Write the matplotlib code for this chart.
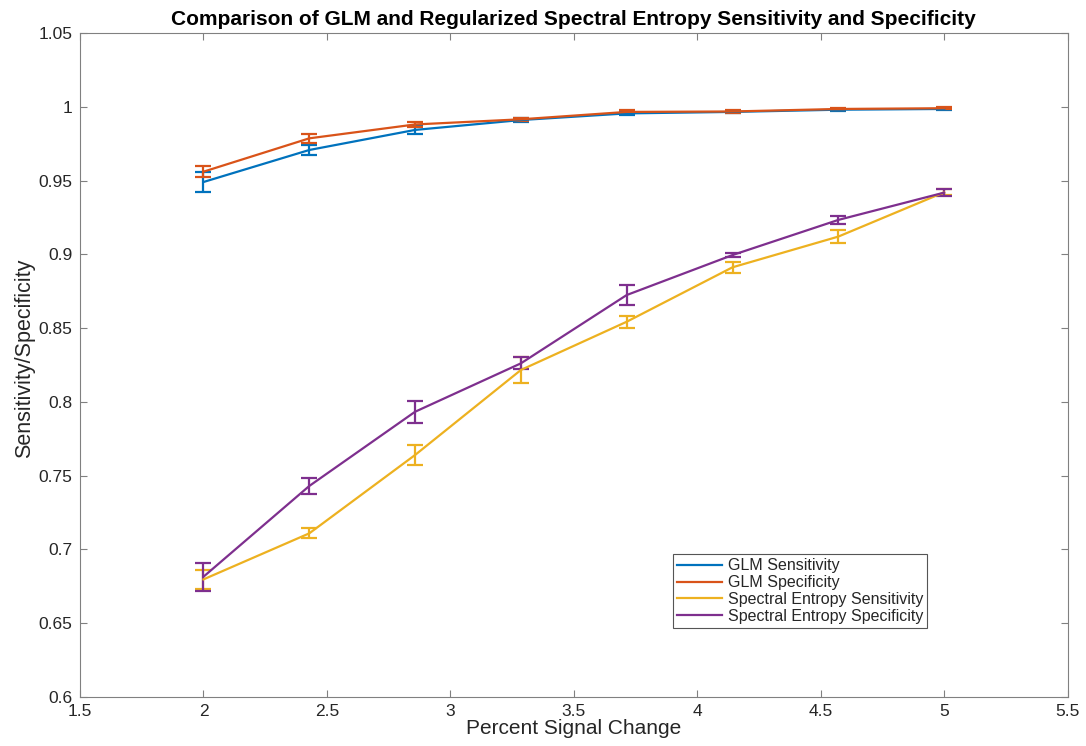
import numpy as np
import matplotlib
matplotlib.use("Agg")
import matplotlib.pyplot as plt
from matplotlib.lines import Line2D

plt.rcParams['font.family'] = ['Liberation Sans', 'DejaVu Sans']

psc = [2.0, 2.4286, 2.8571, 3.2857, 3.7143, 4.1429, 4.5714, 5.0]

glm_sens = [0.949, 0.9707, 0.9843, 0.991, 0.9955, 0.9965, 0.998, 0.9985]
glm_sens_err = [0.0065, 0.0036, 0.0027, 0.0012, 0.0010, 0.0008, 0.0008, 0.0006]
glm_spec = [0.956, 0.9786, 0.988, 0.9915, 0.9965, 0.9968, 0.9985, 0.999]
glm_spec_err = [0.0036, 0.0030, 0.0020, 0.0012, 0.0010, 0.0008, 0.0007, 0.0006]
se_sens = [0.6797, 0.7109, 0.764, 0.8216, 0.8543, 0.8912, 0.912, 0.942]
se_sens_err = [0.0065, 0.0033, 0.0070, 0.0090, 0.0040, 0.0036, 0.0045, 0.0020]
se_spec = [0.6815, 0.743, 0.7933, 0.8261, 0.8724, 0.8995, 0.9233, 0.9418]
se_spec_err = [0.0095, 0.0053, 0.0075, 0.0040, 0.0067, 0.0015, 0.0030, 0.0023]

labels = ['GLM Sensitivity', 'GLM Specificity',
          'Spectral Entropy Sensitivity', 'Spectral Entropy Specificity']
colors = ['#0072BD', '#D95319', '#EDB120', '#7E2F8E']

fig = plt.figure(figsize=(10.86, 7.46), dpi=100)
ax = fig.add_axes([0.0737, 0.0657, 0.9093, 0.8901])

series = [(glm_sens, glm_sens_err), (glm_spec, glm_spec_err),
          (se_sens, se_sens_err), (se_spec, se_spec_err)]
for (y, e), c in zip(series, colors):
    ax.errorbar(psc, y, yerr=e, color=c, lw=1.6, elinewidth=1.6,
                capsize=5.5, capthick=1.6)

ax.set_xlim(1.5, 5.5)
ax.set_ylim(0.6, 1.05)
ax.set_xticks(np.arange(1.5, 5.51, 0.5))
ax.set_xticklabels(['1.5', '2', '2.5', '3', '3.5', '4', '4.5', '5', '5.5'])
ax.set_yticks(np.arange(0.6, 1.051, 0.05))
ax.set_yticklabels(['0.6', '0.65', '0.7', '0.75', '0.8', '0.85', '0.9', '0.95', '1', '1.05'])
ax.tick_params(direction='in', length=5, labelsize=12.5, top=True, right=True,
               width=0.8, color='#808080', labelcolor='#262626')
ax.tick_params(axis='y', pad=5.5)
ax.tick_params(axis='x', pad=5)
for s in ax.spines.values():
    s.set_linewidth(0.8)
    s.set_color('#808080')
ax.set_xlabel('Percent Signal Change', fontsize=15, labelpad=0, color='#262626')
ax.set_ylabel('Sensitivity/Specificity', fontsize=15.5, color='#262626')
ax.yaxis.set_label_coords(-0.046, 0.51)
ax.set_title('Comparison of GLM and Regularized Spectral Entropy Sensitivity and Specificity',
             fontsize=15, fontweight='bold', pad=6)

handles = [Line2D([], [], color=c, lw=1.6) for c in colors]
leg = ax.legend(handles, labels, loc='lower left', bbox_to_anchor=(0.6, 0.104), fontsize=11.5,
                frameon=True, fancybox=False, edgecolor='#555555', framealpha=1,
                handlelength=2.85, borderpad=0.25, labelspacing=0.12, handletextpad=0.35,
                borderaxespad=0)
leg.get_frame().set_linewidth(0.8)
for t in leg.get_texts():
    t.set_color('#262626')

fig.savefig('out.png', dpi=100)
